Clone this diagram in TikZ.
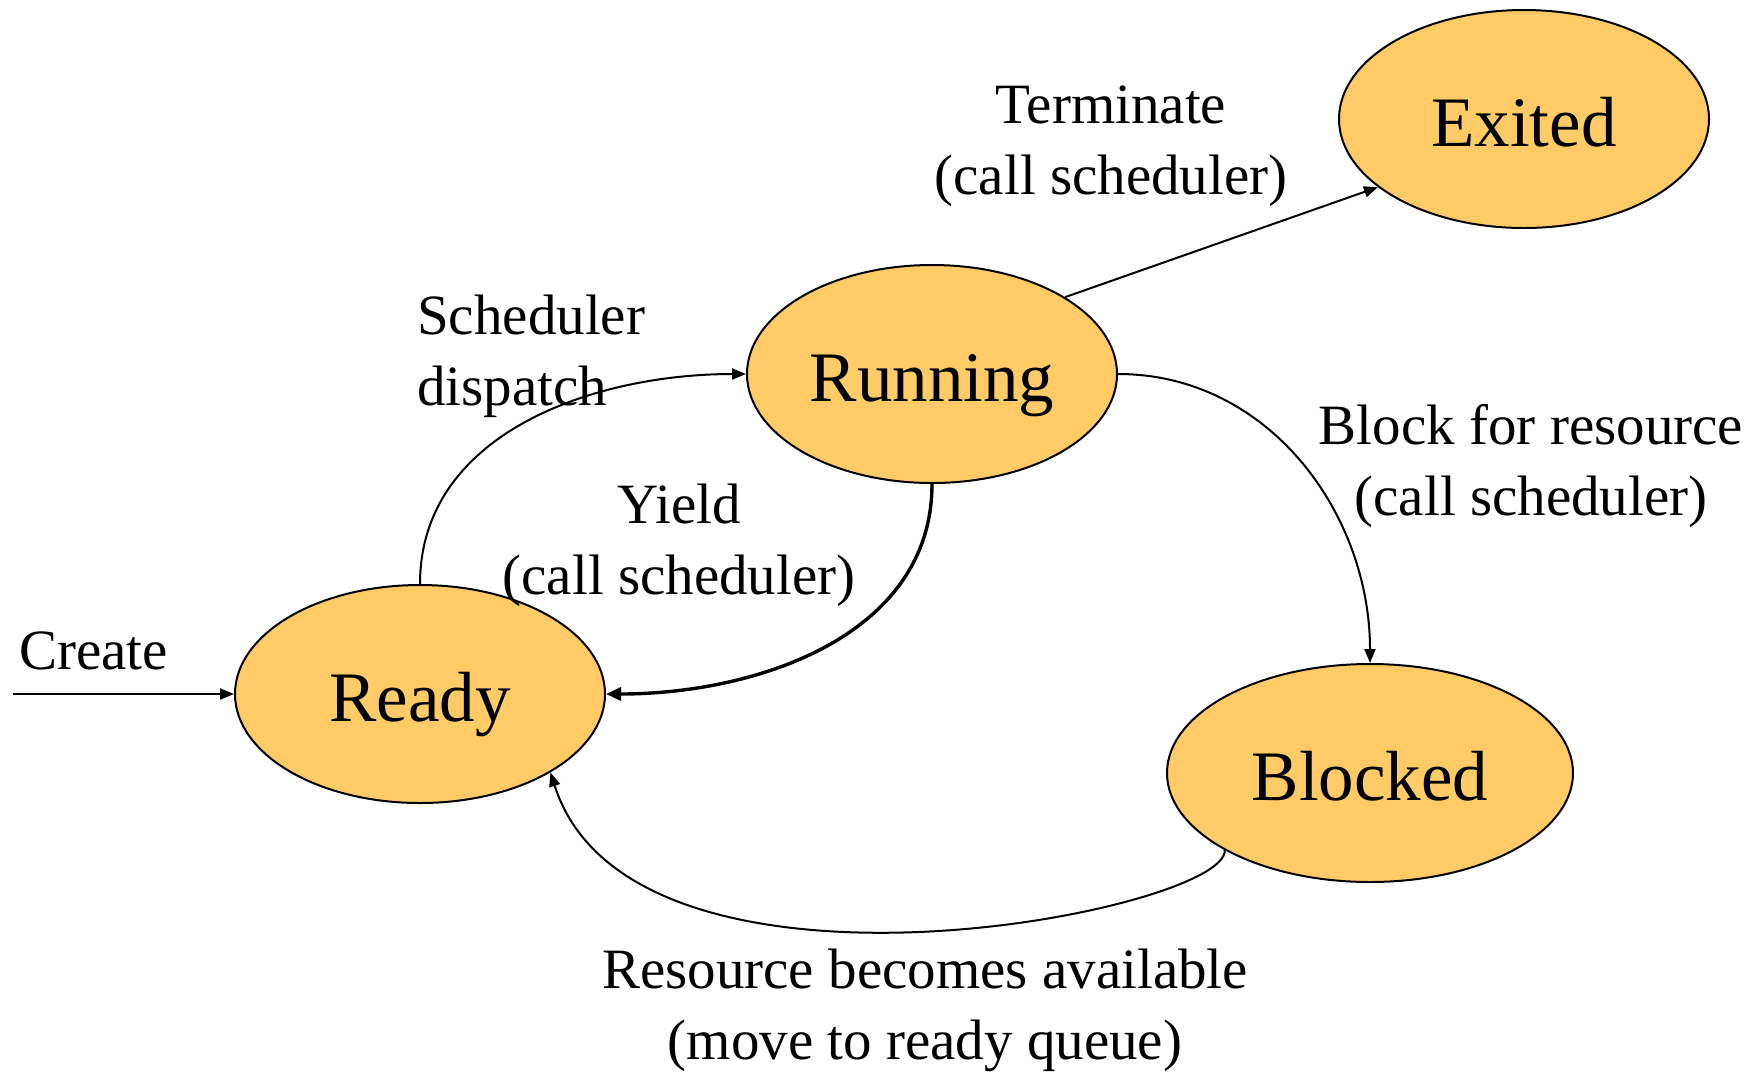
\documentclass[tikz,border=0pt]{standalone}
\usepackage{fontspec}
\setmainfont{Liberation Serif}
\usetikzlibrary{shapes.geometric,arrows.meta}
\definecolor{statefill}{HTML}{FECB66}
\begin{document}
\begin{tikzpicture}[x=1pt,y=-1pt,
  state/.style={ellipse,draw=black,line width=2pt,fill=statefill,inner sep=0pt,
    minimum width=370pt,minimum height=218pt,text height=54pt,text depth=0pt,
    font=\fontsize{71}{85}\selectfont},
  lbl/.style={inner sep=0pt,align=center,font=\fontsize{57}{71}\selectfont},
  edge/.style={line width=2pt,-{Triangle[length=14pt,width=11pt]}},
  thickedge/.style={line width=3.4pt,-{Triangle[length=15pt,width=13pt]}}]
\useasboundingbox (0,0) rectangle (1761,1072);
\node[state] (ready) at (420,694) {Ready};
\node[state] (running) at (932,374) {Running};
\node[state] (exited) at (1524,119) {Exited};
\node[state,minimum width=406pt] (blocked) at (1370,773) {Blocked};
\coordinate (start) at (13,694);
\node[lbl,anchor=base west] (lcreate) at (19,669) {Create};
\node[lbl,anchor=west,align=left] (ldispatch) at (417,356) {Scheduler\\dispatch};
\node[lbl] (lyield) at (679,545) {Yield\\(call scheduler)};
\node[lbl] (lterm) at (1111,146) {Terminate\\(call scheduler)};
\node[lbl] (lblock) at (1531,466) {Block for resource\\(call scheduler)};
\node[lbl] (lres) at (925,1010) {Resource becomes available\\(move to ready queue)};
\draw[edge] (start) -- (ready.west);
\draw[edge] (ready.north) to[out=90,in=180] (running.west);
\draw[thickedge] (running.south) to[out=-90,in=0] (ready.east);
\draw[edge] (running.30.6) -- (exited.205.6);
\draw[edge] (running.east) to[out=0,in=90] (blocked.north);
\draw[edge] (blocked.208.8) .. controls (1228,911) and (632,1029) .. (ready.329.5);
\end{tikzpicture}
\end{document}
